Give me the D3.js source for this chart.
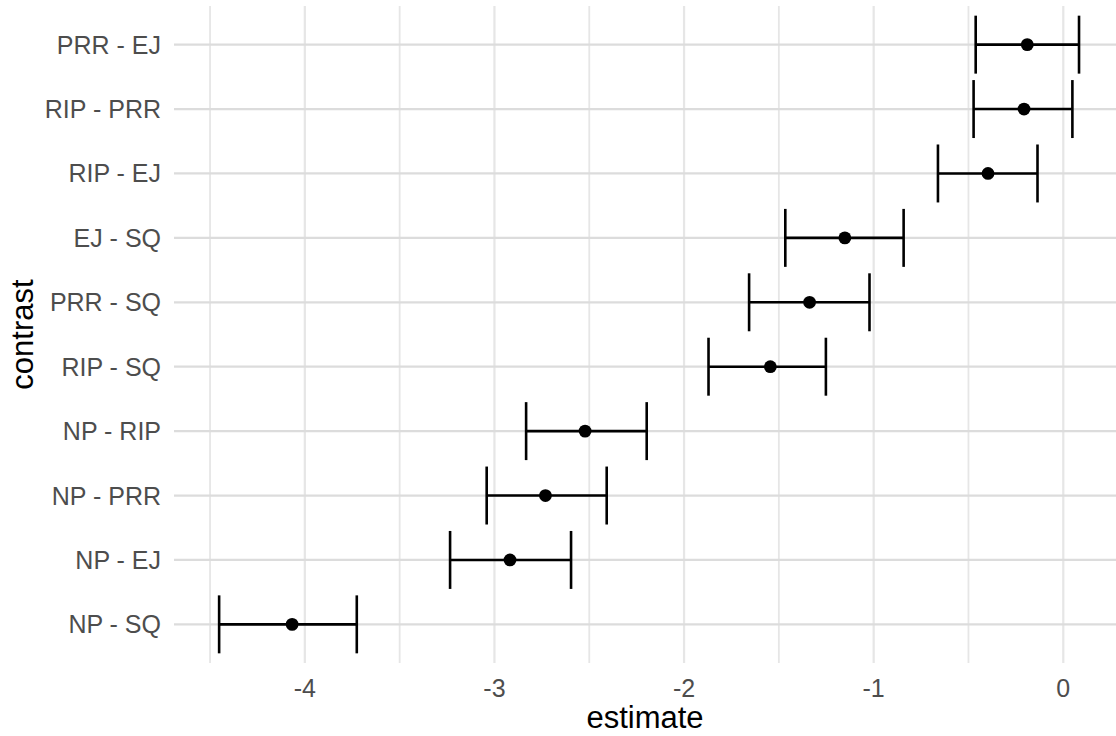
<!DOCTYPE html>
<html>
<head>
<meta charset="utf-8">
<script src="https://cdn.jsdelivr.net/npm/d3@7"></script>
<style>
  html, body { margin: 0; padding: 0; background: #fff; }
  svg { display: block; font-family: "Liberation Sans", Arial, sans-serif; }
</style>
</head>
<body>
<svg id="chart" width="1116" height="736"></svg>
<script>
// Data (listed top to bottom as in the chart)
const contrasts = ["PRR - EJ", "RIP - PRR", "RIP - EJ", "EJ - SQ", "PRR - SQ",
                   "RIP - SQ", "NP - RIP", "NP - PRR", "NP - EJ", "NP - SQ"];
const estimates = [-0.19, -0.207, -0.397, -1.152, -1.338, -1.545, -2.522, -2.731, -2.918, -4.067];
const lowers    = [-0.462, -0.473, -0.661, -1.466, -1.657, -1.871, -2.833, -3.041, -3.234, -4.452];
const uppers    = [0.083, 0.048, -0.136, -0.842, -1.022, -1.252, -2.197, -2.408, -2.596, -3.726];
const xTicks = [-4, -3, -2, -1, 0];
const xMinor = [-4.5, -3.5, -2.5, -1.5, -0.5];
const xTitle = "estimate";
const yTitle = "contrast";

const data = contrasts.map((c, i) => ({ c, est: estimates[i], lo: lowers[i], hi: uppers[i] }));

const svg = d3.select("#chart");
const panel = { left: 174, right: 1116, top: 6, bottom: 663 };

const x = d3.scaleLinear().domain([-4.69, 0.278]).range([panel.left, panel.right]);
const yIdx = d3.scaleLinear().domain([-0.6, contrasts.length - 1 + 0.6]).range([panel.top, panel.bottom]);
const y = c => yIdx(contrasts.indexOf(c));
const step = yIdx(1) - yIdx(0);

const grid = svg.append("g");
grid.selectAll("line.minor").data(xMinor).join("line")
  .attr("x1", d => x(d)).attr("x2", d => x(d))
  .attr("y1", panel.top).attr("y2", panel.bottom)
  .attr("stroke", "#E6E6E6").attr("stroke-width", 1.8);
grid.selectAll("line.majorx").data(xTicks).join("line")
  .attr("x1", d => x(d)).attr("x2", d => x(d))
  .attr("y1", panel.top).attr("y2", panel.bottom)
  .attr("stroke", "#E6E6E6").attr("stroke-width", 2.2);
grid.selectAll("line.majory").data(contrasts).join("line")
  .attr("x1", panel.left).attr("x2", panel.right)
  .attr("y1", d => y(d)).attr("y2", d => y(d))
  .attr("stroke", "#DCDCDC").attr("stroke-width", 2.2);

// error bars
const eb = svg.append("g").attr("stroke", "#000").attr("stroke-width", 2.6).attr("fill", "none");
const capH = step * 0.9 / 2;
data.forEach(d => {
  const yy = y(d.c);
  eb.append("line").attr("x1", x(d.lo)).attr("x2", x(d.hi)).attr("y1", yy).attr("y2", yy);
  eb.append("line").attr("x1", x(d.lo)).attr("x2", x(d.lo)).attr("y1", yy - capH).attr("y2", yy + capH);
  eb.append("line").attr("x1", x(d.hi)).attr("x2", x(d.hi)).attr("y1", yy - capH).attr("y2", yy + capH);
});

// points
svg.append("g").selectAll("circle").data(data).join("circle")
  .attr("cx", d => x(d.est)).attr("cy", d => y(d.c)).attr("r", 6.4).attr("fill", "#000");

// x tick labels
svg.append("g").selectAll("text").data(xTicks).join("text")
  .attr("x", d => x(d)).attr("y", 697)
  .attr("text-anchor", "middle").attr("fill", "#4D4D4D").attr("font-size", 25)
  .text(d => String(d));

// y tick labels
svg.append("g").selectAll("text").data(contrasts).join("text")
  .attr("x", 161).attr("y", d => y(d)).attr("dy", "0.36em")
  .attr("text-anchor", "end").attr("fill", "#4D4D4D").attr("font-size", 25)
  .text(d => d);

// axis titles
svg.append("text").attr("x", (panel.left + panel.right) / 2).attr("y", 728)
  .attr("text-anchor", "middle").attr("fill", "#000").attr("font-size", 31).text(xTitle);
svg.append("text")
  .attr("transform", `translate(33,${(panel.top + panel.bottom) / 2}) rotate(-90)`)
  .attr("text-anchor", "middle").attr("fill", "#000").attr("font-size", 31).text(yTitle);
</script>
</body>
</html>
